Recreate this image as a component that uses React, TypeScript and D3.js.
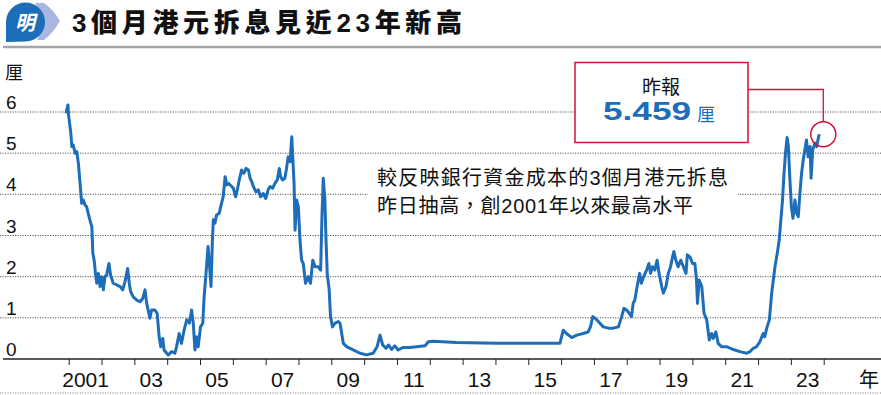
import { useMemo } from 'react'
import { scaleLinear, line, range } from 'd3'

// 3個月港元拆息 (厘)
const dates = [
  2000.90, 2000.96, 2000.98, 2001.05, 2001.08, 2001.12, 2001.18, 2001.23, 2001.28, 2001.33,
  2001.38, 2001.43, 2001.48, 2001.53, 2001.58, 2001.63, 2001.69, 2001.72, 2001.76, 2001.80,
  2001.84, 2001.89, 2001.94, 2001.99, 2002.04, 2002.09, 2002.14, 2002.21, 2002.26, 2002.34,
  2002.45, 2002.55, 2002.63, 2002.70, 2002.78, 2002.83, 2002.87, 2002.95, 2003.06, 2003.16,
  2003.24, 2003.31, 2003.36, 2003.46, 2003.51, 2003.61, 2003.68, 2003.74, 2003.79, 2003.85,
  2003.89, 2003.97, 2004.02, 2004.12, 2004.22, 2004.27, 2004.35, 2004.42, 2004.50, 2004.58,
  2004.66, 2004.73, 2004.78, 2004.83, 2004.88, 2004.93, 2005.00, 2005.07, 2005.11, 2005.16,
  2005.23, 2005.27, 2005.32, 2005.36, 2005.39, 2005.44, 2005.49, 2005.57, 2005.64, 2005.69,
  2005.75, 2005.80, 2005.85, 2005.95, 2006.00, 2006.07, 2006.12, 2006.18, 2006.25, 2006.32,
  2006.39, 2006.46, 2006.51, 2006.56, 2006.61, 2006.69, 2006.76, 2006.83, 2006.91, 2006.99,
  2007.06, 2007.12, 2007.20, 2007.27, 2007.34, 2007.40, 2007.44, 2007.50, 2007.57, 2007.62,
  2007.67, 2007.73, 2007.78, 2007.81, 2007.85, 2007.88, 2007.93, 2007.98, 2008.03, 2008.08,
  2008.13, 2008.20, 2008.28, 2008.35, 2008.42, 2008.49, 2008.59, 2008.66, 2008.70, 2008.74,
  2008.79, 2008.82, 2008.86, 2008.92, 2008.96, 2009.02, 2009.10, 2009.20, 2009.25, 2009.35,
  2009.45, 2009.65, 2009.86, 2010.06, 2010.26, 2010.38, 2010.47, 2010.55, 2010.65, 2010.73,
  2010.82, 2010.92, 2011.02, 2011.18, 2011.38, 2011.58, 2011.84, 2011.94, 2012.09, 2012.80,
  2013.61, 2014.12, 2015.14, 2015.95, 2016.05, 2016.15, 2016.31, 2016.46, 2016.66, 2016.81,
  2016.88, 2016.95, 2017.02, 2017.12, 2017.27, 2017.42, 2017.57, 2017.73, 2017.83, 2017.90,
  2017.98, 2018.06, 2018.13, 2018.18, 2018.23, 2018.30, 2018.38, 2018.43, 2018.50, 2018.59,
  2018.66, 2018.71, 2018.77, 2018.84, 2018.91, 2018.97, 2019.05, 2019.10, 2019.18, 2019.25,
  2019.32, 2019.38, 2019.42, 2019.48, 2019.55, 2019.63, 2019.71, 2019.79, 2019.83, 2019.91,
  2019.99, 2020.06, 2020.11, 2020.14, 2020.19, 2020.27, 2020.34, 2020.42, 2020.50, 2020.57,
  2020.62, 2020.70, 2020.77, 2020.87, 2021.03, 2021.23, 2021.43, 2021.64, 2021.74, 2021.84,
  2021.94, 2022.04, 2022.14, 2022.19, 2022.26, 2022.33, 2022.40, 2022.45, 2022.50, 2022.57,
  2022.63, 2022.68, 2022.73, 2022.77, 2022.82, 2022.87, 2022.91, 2022.95, 2023.00, 2023.05,
  2023.11, 2023.16, 2023.21, 2023.26, 2023.31, 2023.36, 2023.41, 2023.46, 2023.51, 2023.57,
  2023.60, 2023.65, 2023.72, 2023.77, 2023.82, 2023.85,
]
const rates = [
  5.97, 6.17, 5.93, 5.48, 5.16, 5.20, 5.00, 5.04, 4.75, 4.27,
  3.78, 3.86, 3.74, 3.70, 3.54, 3.38, 3.21, 2.57, 2.40, 2.08,
  1.84, 2.08, 1.76, 2.00, 1.68, 2.00, 2.04, 2.32, 2.04, 1.84,
  1.80, 1.76, 1.68, 1.88, 2.20, 1.84, 1.64, 1.51, 1.43, 1.39,
  1.47, 1.68, 1.35, 0.99, 1.19, 1.19, 1.11, 0.54, 0.30, 0.50,
  0.22, 0.14, 0.10, 0.18, 0.14, 0.30, 0.62, 0.38, 0.70, 0.95,
  0.87, 1.19, 0.87, 0.22, 0.54, 0.30, 0.78, 0.87, 1.51, 2.00,
  2.73, 2.32, 1.76, 2.81, 3.38, 3.30, 3.50, 3.54, 3.78, 3.94,
  4.43, 4.23, 4.27, 4.19, 4.15, 3.94, 4.11, 4.35, 4.59, 4.51,
  4.63, 4.59, 4.39, 4.31, 4.19, 4.06, 4.11, 3.94, 4.02, 3.90,
  4.11, 4.19, 4.15, 4.27, 4.35, 4.63, 4.43, 4.35, 4.39, 4.63,
  4.91, 4.79, 5.40, 4.91, 4.27, 3.13, 3.86, 3.70, 2.89, 2.40,
  2.32, 1.84, 2.00, 1.84, 2.40, 2.24, 2.24, 2.16, 3.46, 4.39,
  3.86, 2.97, 2.08, 1.68, 1.03, 0.78, 0.87, 0.91, 0.87, 0.38,
  0.30, 0.22, 0.14, 0.10, 0.14, 0.30, 0.58, 0.34, 0.26, 0.34,
  0.23, 0.32, 0.22, 0.28, 0.28, 0.30, 0.32, 0.42, 0.43, 0.40,
  0.39, 0.38, 0.38, 0.38, 0.70, 0.62, 0.52, 0.58, 0.62, 0.66,
  0.78, 1.03, 0.99, 0.91, 0.78, 0.75, 0.75, 0.78, 1.03, 1.23,
  1.19, 1.11, 1.03, 1.35, 1.43, 1.76, 2.08, 1.84, 2.00, 2.16,
  2.32, 2.08, 2.24, 2.16, 2.40, 2.08, 1.76, 1.60, 1.76, 2.08,
  2.24, 2.48, 2.61, 2.40, 2.24, 2.40, 2.24, 2.08, 2.53, 2.48,
  2.32, 2.32, 1.92, 1.35, 1.92, 1.76, 1.11, 0.95, 0.46, 0.62,
  0.50, 0.66, 0.38, 0.30, 0.30, 0.23, 0.18, 0.14, 0.18, 0.26,
  0.30, 0.42, 0.62, 0.54, 0.78, 0.95, 1.60, 1.92, 2.24, 2.57,
  2.89, 3.38, 3.86, 4.43, 5.00, 5.38, 5.16, 4.43, 3.70, 3.42,
  3.86, 3.54, 3.46, 4.02, 4.51, 4.83, 5.08, 5.32, 4.91, 5.16,
  4.39, 5.08, 5.24, 5.16, 5.36, 5.46,
]

const yTicks = [0, 1, 2, 3, 4, 5, 6]
const xLabelYears = [2001, 2003, 2005, 2007, 2009, 2011, 2013, 2015, 2017, 2019, 2021, 2023]
const xLabels = ['2001', '03', '05', '07', '09', '11', '13', '15', '17', '19', '21', '23']

const title = '3個月港元拆息見近23年新高'
const note1 = '較反映銀行資金成本的3個月港元拆息'
const note2 = '昨日抽高，創2001年以來最高水平'
const latestLabel = '昨報'
const latestValue = '5.459'
const unit = '厘'
const yearUnit = '年'

const blue = '#1d6db9'
const red = '#c9153a'
const font = "'Liberation Sans', 'Noto Sans CJK TC', sans-serif"

const App = () => {
  const width = 881
  const height = 395

  const x = scaleLinear().domain([2001, 2024]).range([69.2, 824.2])
  const y = scaleLinear().domain([0, 6]).range([359, 112])

  const path = useMemo(() => {
    const pts = dates.map((d, i) => [d, rates[i]] as [number, number])
    return line<[number, number]>()
      .x(d => x(d[0]))
      .y(d => y(d[1]))(pts)
  }, [])

  const last = [dates[dates.length - 1], rates[rates.length - 1]]
  const cx = x(last[0]) + 4
  const cy = y(last[1])

  return (
    <svg width={width} height={height} style={{ position: 'absolute', left: 0, top: 0, background: '#fff' }}
      fontFamily={font}>
      {/* header */}
      <path d="M35,3 L44,3 Q53,9 60,21 Q53,33 44,40 L37,40 Q47,22 35,3 Z" fill="#a9b6df" />
      <path d="M6,42 V22 A19.5,19.5 0 1 1 25.5,41.5 Z" fill={blue} />
      <text x={25} y={30} fill="#fff" fontSize={20} fontWeight="bold" fontStyle="italic"
        textAnchor="middle" fontFamily="'Noto Sans CJK TC'">明</text>
      <text x={72} y={32} fontSize={26} fontWeight="900" fill="#111" textLength={390}
        lengthAdjust="spacing">{title}</text>
      <line x1={3} x2={881} y1={47} y2={47} stroke="#a5a5a5" strokeWidth={2.5} />

      {/* grid */}
      {yTicks.filter(t => t > 0).map(t => (
        <line key={t} x1={0} x2={881} y1={y(t)} y2={y(t)} stroke="#555" strokeWidth={1}
          strokeDasharray="1.2 1.3" />
      ))}
      {yTicks.map(t => (
        <text key={t} x={6} y={y(t) - 3} fontSize={19} fill="#111">{t}</text>
      ))}
      <text x={5} y={79} fontSize={18} fill="#111" fontFamily="'Noto Sans CJK TC'">{unit}</text>

      {/* x axis */}
      <line x1={3} x2={881} y1={y(0)} y2={y(0)} stroke="#222" strokeWidth={1.5} />
      {range(2001, 2025).map(yr => (
        <line key={yr} x1={x(yr)} x2={x(yr)} y1={y(0)} y2={y(0) + 6} stroke="#222" strokeWidth={1} />
      ))}
      {xLabelYears.map((yr, i) => (
        <text key={yr} x={x(yr + 0.5)} y={386.5} fontSize={21} fill="#111" textAnchor="middle">
          {xLabels[i]}
        </text>
      ))}
      <text x={859} y={387} fontSize={20} fill="#111" fontFamily="'Noto Sans CJK TC'">{yearUnit}</text>
      <line x1={0} x2={881} y1={393} y2={393} stroke="#888" strokeWidth={1} strokeDasharray="1.2 1.3" />

      {/* annotation */}
      <rect x={368} y={162} width={370} height={58} fill="#fff" />
      <text x={377} y={185} fontSize={20} fill="#111" textLength={351} lengthAdjust="spacing">{note1}</text>
      <text x={377} y={212.5} fontSize={20} fill="#111" textLength={316} lengthAdjust="spacing">{note2}</text>

      {/* series */}
      <path d={path ?? ''} fill="none" stroke={blue} strokeWidth={3} strokeLinejoin="round" />

      {/* callout */}
      <rect x={575} y={62.5} width={173} height={80} fill="#fff" stroke={red} strokeWidth={1.5} />
      <path d={`M748,89.5 H${cx} V${cy - 12.5}`} fill="none" stroke={red} strokeWidth={1.3} />
      <circle cx={cx} cy={cy} r={12.5} fill="none" stroke={red} strokeWidth={1.5} />
      <text x={661} y={94} fontSize={19} fill="#111" textAnchor="middle"
        fontFamily="'Noto Sans CJK TC'">{latestLabel}</text>
      <text x={603} y={120} fontSize={25} fontWeight="bold" fill={blue} textLength={88}
        lengthAdjust="spacingAndGlyphs">{latestValue}</text>
      <text x={697} y={121} fontSize={18} fill={blue} fontFamily="'Noto Sans CJK TC'">{unit}</text>
    </svg>
  )
}

export default App
